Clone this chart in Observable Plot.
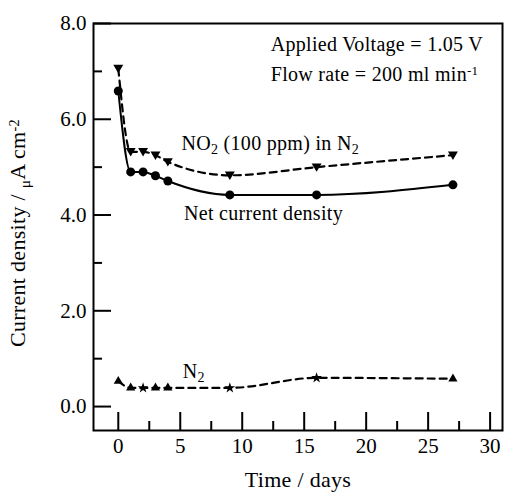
<!DOCTYPE html>
<html>
<head>
<meta charset="utf-8">
<script src="https://cdn.jsdelivr.net/npm/d3@7"></script>
<script src="https://cdn.jsdelivr.net/npm/@observablehq/plot@0.6"></script>
<style>
  html, body { margin: 0; padding: 0; background: #fff; }
  #chart svg { display: block; }
  #chart svg, #chart svg text { font-family: "Liberation Serif", "Times New Roman", serif !important; }
  #chart svg g[aria-label="text"] text { letter-spacing: 0.3px; }
</style>
</head>
<body>
<div id="chart"></div>
<script>
// ---- data ----
const days = [0, 1, 2, 3, 4, 9, 16, 27];
const netCurrent = [6.59, 4.90, 4.90, 4.82, 4.71, 4.42, 4.42, 4.63];
const no2Current = [7.06, 5.32, 5.32, 5.25, 5.11, 4.83, 5.00, 5.25];
const n2Current  = [0.53, 0.39, 0.39, 0.39, 0.39, 0.39, 0.60, 0.58];
const n2Symbols  = ["triangle", "triangle", "star", "triangle", "triangle", "star", "star", "triangle"];

const xTicks = [0, 5, 10, 15, 20, 25, 30];
const xMinor = [2.5, 7.5, 12.5, 17.5, 22.5, 27.5];
const yTicks = [0, 2, 4, 6, 8];
const yMinor = [1, 3, 5, 7];

const notes = [
  {x: 12.3, y: 7.55, text: "Applied Voltage = 1.05 V"},
  {x: 12.3, y: 6.93, text: "Flow rate = 200 ml min^{-1}"},
  {x: 5.1, y: 5.5, text: "NO_{2} (100 ppm) in N_{2}"},
  {x: 5.3, y: 4.04, text: "Net current density"},
  {x: 5.2, y: 0.72, text: "N_{2}"}
];

// ---- tables built from the arrays ----
const net = days.map((d, i) => ({day: d, v: netCurrent[i]}));
const no2 = days.map((d, i) => ({day: d, v: no2Current[i]}));
const n2 = days.map((d, i) => ({day: d, v: n2Current[i], s: n2Symbols[i]}));

const W = 505, H = 498;
const mL = 93, mR = 3, mT = 23, mB = 68;
const innerW = W - mL - mR, innerH = H - mT - mB;
const FONT = "Liberation Serif, Times New Roman, serif";

const triangleDown = {
  draw(context, size) {
    const r = Math.sqrt(size / 1.3);
    context.moveTo(-r, -r * 0.75);
    context.lineTo(r, -r * 0.75);
    context.lineTo(0, r * 0.95);
    context.closePath();
  }
};

const chart = Plot.plot({
  width: W, height: H,
  marginLeft: mL, marginRight: mR, marginTop: mT, marginBottom: mB,
  style: {fontFamily: FONT, fontSize: "17px", color: "#000", background: "#fff"},
  x: {domain: [-2, 31]},
  y: {domain: [-0.5, 8]},
  symbol: {type: "ordinal", domain: ["triangle", "star"], range: ["triangle", "star"]},
  marks: [
    Plot.axisX(xTicks, {tickSize: 0, tickPadding: 8, fontSize: 21, fontFamily: FONT, label: null}),
    Plot.axisY(yTicks, {tickSize: 0, tickPadding: 7, fontSize: 21, fontFamily: FONT, tickFormat: d3.format(".1f"), label: null}),
    // inward ticks
    Plot.tickX(xTicks, {x: d => d, insetTop: innerH - 18, strokeWidth: 2, stroke: "#000"}),
    Plot.tickX(xMinor, {x: d => d, insetTop: innerH - 9, strokeWidth: 2, stroke: "#000"}),
    Plot.tickY(yTicks, {y: d => d, insetRight: innerW - 18, strokeWidth: 2, stroke: "#000"}),
    Plot.tickY(yMinor, {y: d => d, insetRight: innerW - 9, strokeWidth: 2, stroke: "#000"}),
    Plot.frame({stroke: "#000", strokeWidth: 2}),
    // series
    Plot.line(net, {x: "day", y: "v", curve: "monotone-x", stroke: "#000", strokeWidth: 2}),
    Plot.line(no2, {x: "day", y: "v", curve: "monotone-x", stroke: "#000", strokeWidth: 2.2, strokeDasharray: "7,5"}),
    Plot.line(n2, {x: "day", y: "v", curve: "monotone-x", stroke: "#000", strokeWidth: 2.2, strokeDasharray: "7,5"}),
    Plot.dot(net, {x: "day", y: "v", r: 4.5, fill: "#000", stroke: "none"}),
    Plot.dot(no2, {x: "day", y: "v", r: 3.2, symbol: triangleDown, fill: "#000", stroke: "none"}),
    Plot.dot(n2, {x: "day", y: "v", r: 3.4, symbol: "s", fill: "#000", stroke: "none"}),
    // annotations
    Plot.text(notes, {x: "x", y: "y", text: "text", textAnchor: "start", fontSize: 20, fontFamily: FONT, fill: "#000"}),
    Plot.text(["Time / days"], {frameAnchor: "bottom", dy: 56, fontSize: 22, fontFamily: FONT, fill: "#000"}),
    Plot.text(["Current density / _{\u03bc}A cm^{-2}"], {frameAnchor: "left", textAnchor: "middle", dx: -76, dy: 6, rotate: -90, fontSize: 22, fontFamily: FONT, fill: "#000"})
  ]
});

// turn _{..} and ^{..} into sub/superscript tspans
d3.select(chart).selectAll("text").each(function() {
  const el = this;
  const targets = el.querySelectorAll("tspan").length ? Array.from(el.querySelectorAll("tspan")) : [el];
  targets.forEach(t => {
    const s = t.textContent;
    if (!/[_^]\{/.test(s)) return;
    t.textContent = "";
    const re = /([_^])\{([^}]*)\}/g;
    let last = 0, m;
    const ns = "http://www.w3.org/2000/svg";
    const add = (txt, kind) => {
      const ts = document.createElementNS(ns, "tspan");
      ts.textContent = txt;
      if (kind === "_") { ts.setAttribute("baseline-shift", "-30%"); ts.setAttribute("font-size", "70%"); }
      if (kind === "^") { ts.setAttribute("baseline-shift", "45%"); ts.setAttribute("font-size", "65%"); }
      t.appendChild(ts);
    };
    while ((m = re.exec(s))) {
      if (m.index > last) add(s.slice(last, m.index), null);
      add(m[2], m[1]);
      last = re.lastIndex;
    }
    if (last < s.length) add(s.slice(last), null);
  });
});

document.getElementById("chart").appendChild(chart);
</script>
</body>
</html>
